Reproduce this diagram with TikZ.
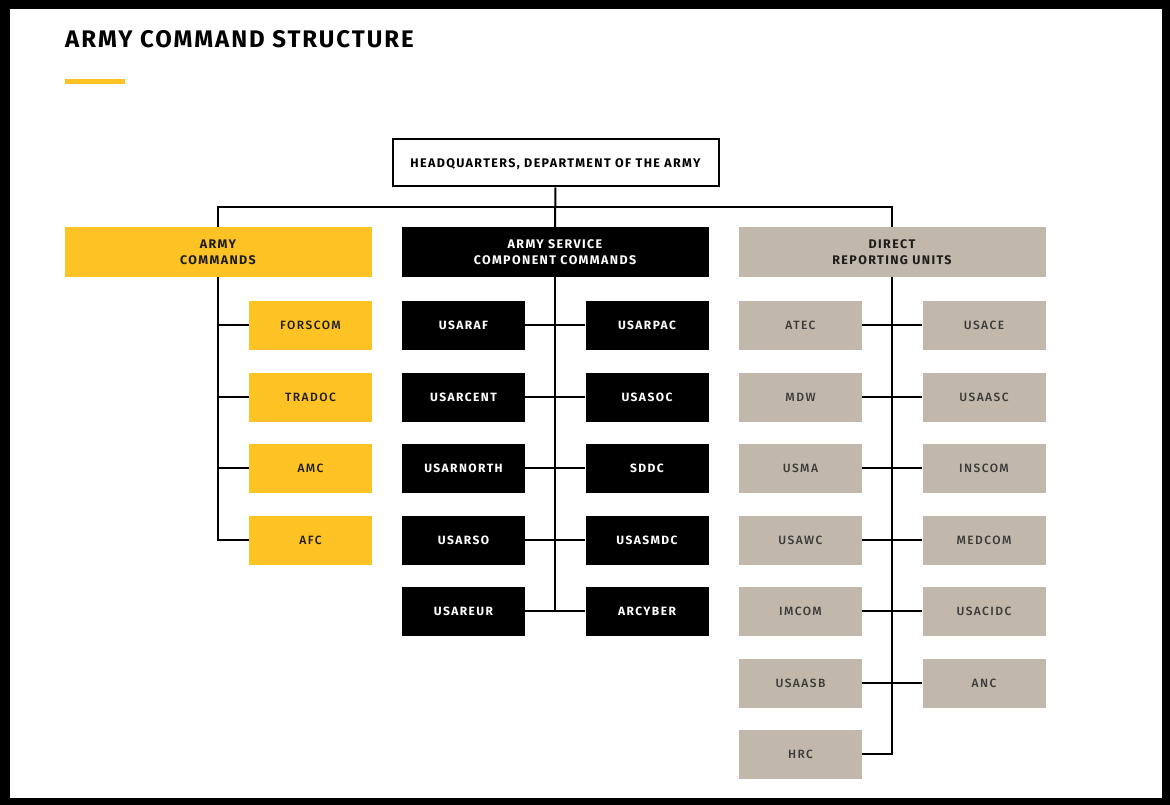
\documentclass[tikz,border=0pt]{standalone}
\usepackage{fontspec}
\setmainfont{Fira Sans}
\newfontfamily\trk[LetterSpace=12]{Fira Sans Medium}
\newfontfamily\trkb[LetterSpace=12]{Fira Sans}
\newfontfamily\hdrf[LetterSpace=11]{Fira Sans}
\newfontfamily\ttl[LetterSpace=8]{Fira Sans}
\definecolor{armyyellow}{HTML}{FDC325}
\definecolor{armytan}{HTML}{C1B8AB}
\definecolor{darktxt}{HTML}{1C1C1C}
\definecolor{greytxt}{HTML}{3A3A3A}
\tikzset{
  conn/.style={line width=2pt, draw=black},
  basebox/.style={minimum width=123pt, minimum height=49pt, inner sep=0pt, text height=8.3pt, text depth=0pt},
  hdr/.style={minimum width=307pt, minimum height=49pt, inner sep=0pt, align=center,
    font=\hdrf\bfseries\fontsize{12.5}{16}\selectfont},
  ybox/.style={basebox, fill=armyyellow, text=darktxt, font=\trk\fontsize{12}{14}\selectfont},
  kbox/.style={basebox, fill=black, text=white, font=\trkb\bfseries\fontsize{12}{14}\selectfont},
  tbox/.style={basebox, fill=armytan, text=greytxt, font=\trk\fontsize{12}{14}\selectfont}
}
\begin{document}
\begin{tikzpicture}[x=1pt,y=-1pt]
\useasboundingbox (0,0) rectangle (1170,805);
\fill[black] (0,0) rectangle (1170,805);
\fill[white] (10,9) rectangle (1162,798);
% title
\node[anchor=base west, inner sep=0pt, font=\ttl\bfseries\fontsize{24}{28}\selectfont] (title) at (65,48) {ARMY COMMAND STRUCTURE};
\fill[armyyellow] (65,79) rectangle (125,84);
% HQ
\node[draw=black, line width=2pt, minimum width=326pt, minimum height=47pt, inner sep=0pt,
  text height=8.6pt, text depth=0pt,
  font=\hdrf\bfseries\fontsize{12.5}{15}\selectfont] (hq) at (555.5,163) {HEADQUARTERS, DEPARTMENT OF THE ARMY};
% headers
\node[hdr, fill=armyyellow, text=darktxt] (ac) at (218,252) {ARMY\\COMMANDS};
\node[hdr, fill=black, text=white] (ascc) at (555,252) {ARMY SERVICE\\COMPONENT COMMANDS};
\node[hdr, fill=armytan, text=darktxt] (dru) at (892,252) {DIRECT\\REPORTING UNITS};
% army commands
\node[ybox] (forscom) at (310.5,325) {FORSCOM};
\node[ybox] (tradoc) at (310.5,397) {TRADOC};
\node[ybox] (amc) at (310.5,468) {AMC};
\node[ybox] (afc) at (310.5,540) {AFC};
% ASCC
\node[kbox] (usaraf) at (463.5,325) {USARAF};
\node[kbox] (usarpac) at (647,325) {USARPAC};
\node[kbox] (usarcent) at (463.5,397) {USARCENT};
\node[kbox] (usasoc) at (647,397) {USASOC};
\node[kbox] (usarnorth) at (463.5,468) {USARNORTH};
\node[kbox] (sddc) at (647,468) {SDDC};
\node[kbox] (usarso) at (463.5,540) {USARSO};
\node[kbox] (usasmdc) at (647,540) {USASMDC};
\node[kbox] (usareur) at (463.5,611) {USAREUR};
\node[kbox] (arcyber) at (647,611) {ARCYBER};
% DRU
\node[tbox] (atec) at (800.5,325) {ATEC};
\node[tbox] (usace) at (984,325) {USACE};
\node[tbox] (mdw) at (800.5,397) {MDW};
\node[tbox] (usaasc) at (984,397) {USAASC};
\node[tbox] (usma) at (800.5,468) {USMA};
\node[tbox] (inscom) at (984,468) {INSCOM};
\node[tbox] (usawc) at (800.5,540) {USAWC};
\node[tbox] (medcom) at (984,540) {MEDCOM};
\node[tbox] (imcom) at (800.5,611) {IMCOM};
\node[tbox] (usacidc) at (984,611) {USACIDC};
\node[tbox] (usaasb) at (800.5,683) {USAASB};
\node[tbox] (anc) at (984,683) {ANC};
\node[tbox] (hrc) at (800.5,754) {HRC};
% connectors
\coordinate (bus) at (555,207);
\draw[conn] (hq.south) -- (ascc.north);
\draw[conn] (ac.north) -- (ac.north |- bus) -- (dru.north |- bus) -- (dru.north);
\draw[conn] (ac.south) |- (afc.west);
\foreach \n in {forscom,tradoc,amc} \draw[conn] (\n.west) -- (\n.west -| ac.south);
\draw[conn] (ascc.south) -- (ascc.south |- usareur.east);
\foreach \a/\b in {usaraf/usarpac,usarcent/usasoc,usarnorth/sddc,usarso/usasmdc,usareur/arcyber}
  \draw[conn] (\a.east) -- (\b.west);
\draw[conn] (dru.south) |- (hrc.east);
\foreach \a/\b in {atec/usace,mdw/usaasc,usma/inscom,usawc/medcom,imcom/usacidc,usaasb/anc}
  \draw[conn] (\a.east) -- (\b.west);
\end{tikzpicture}
\end{document}
